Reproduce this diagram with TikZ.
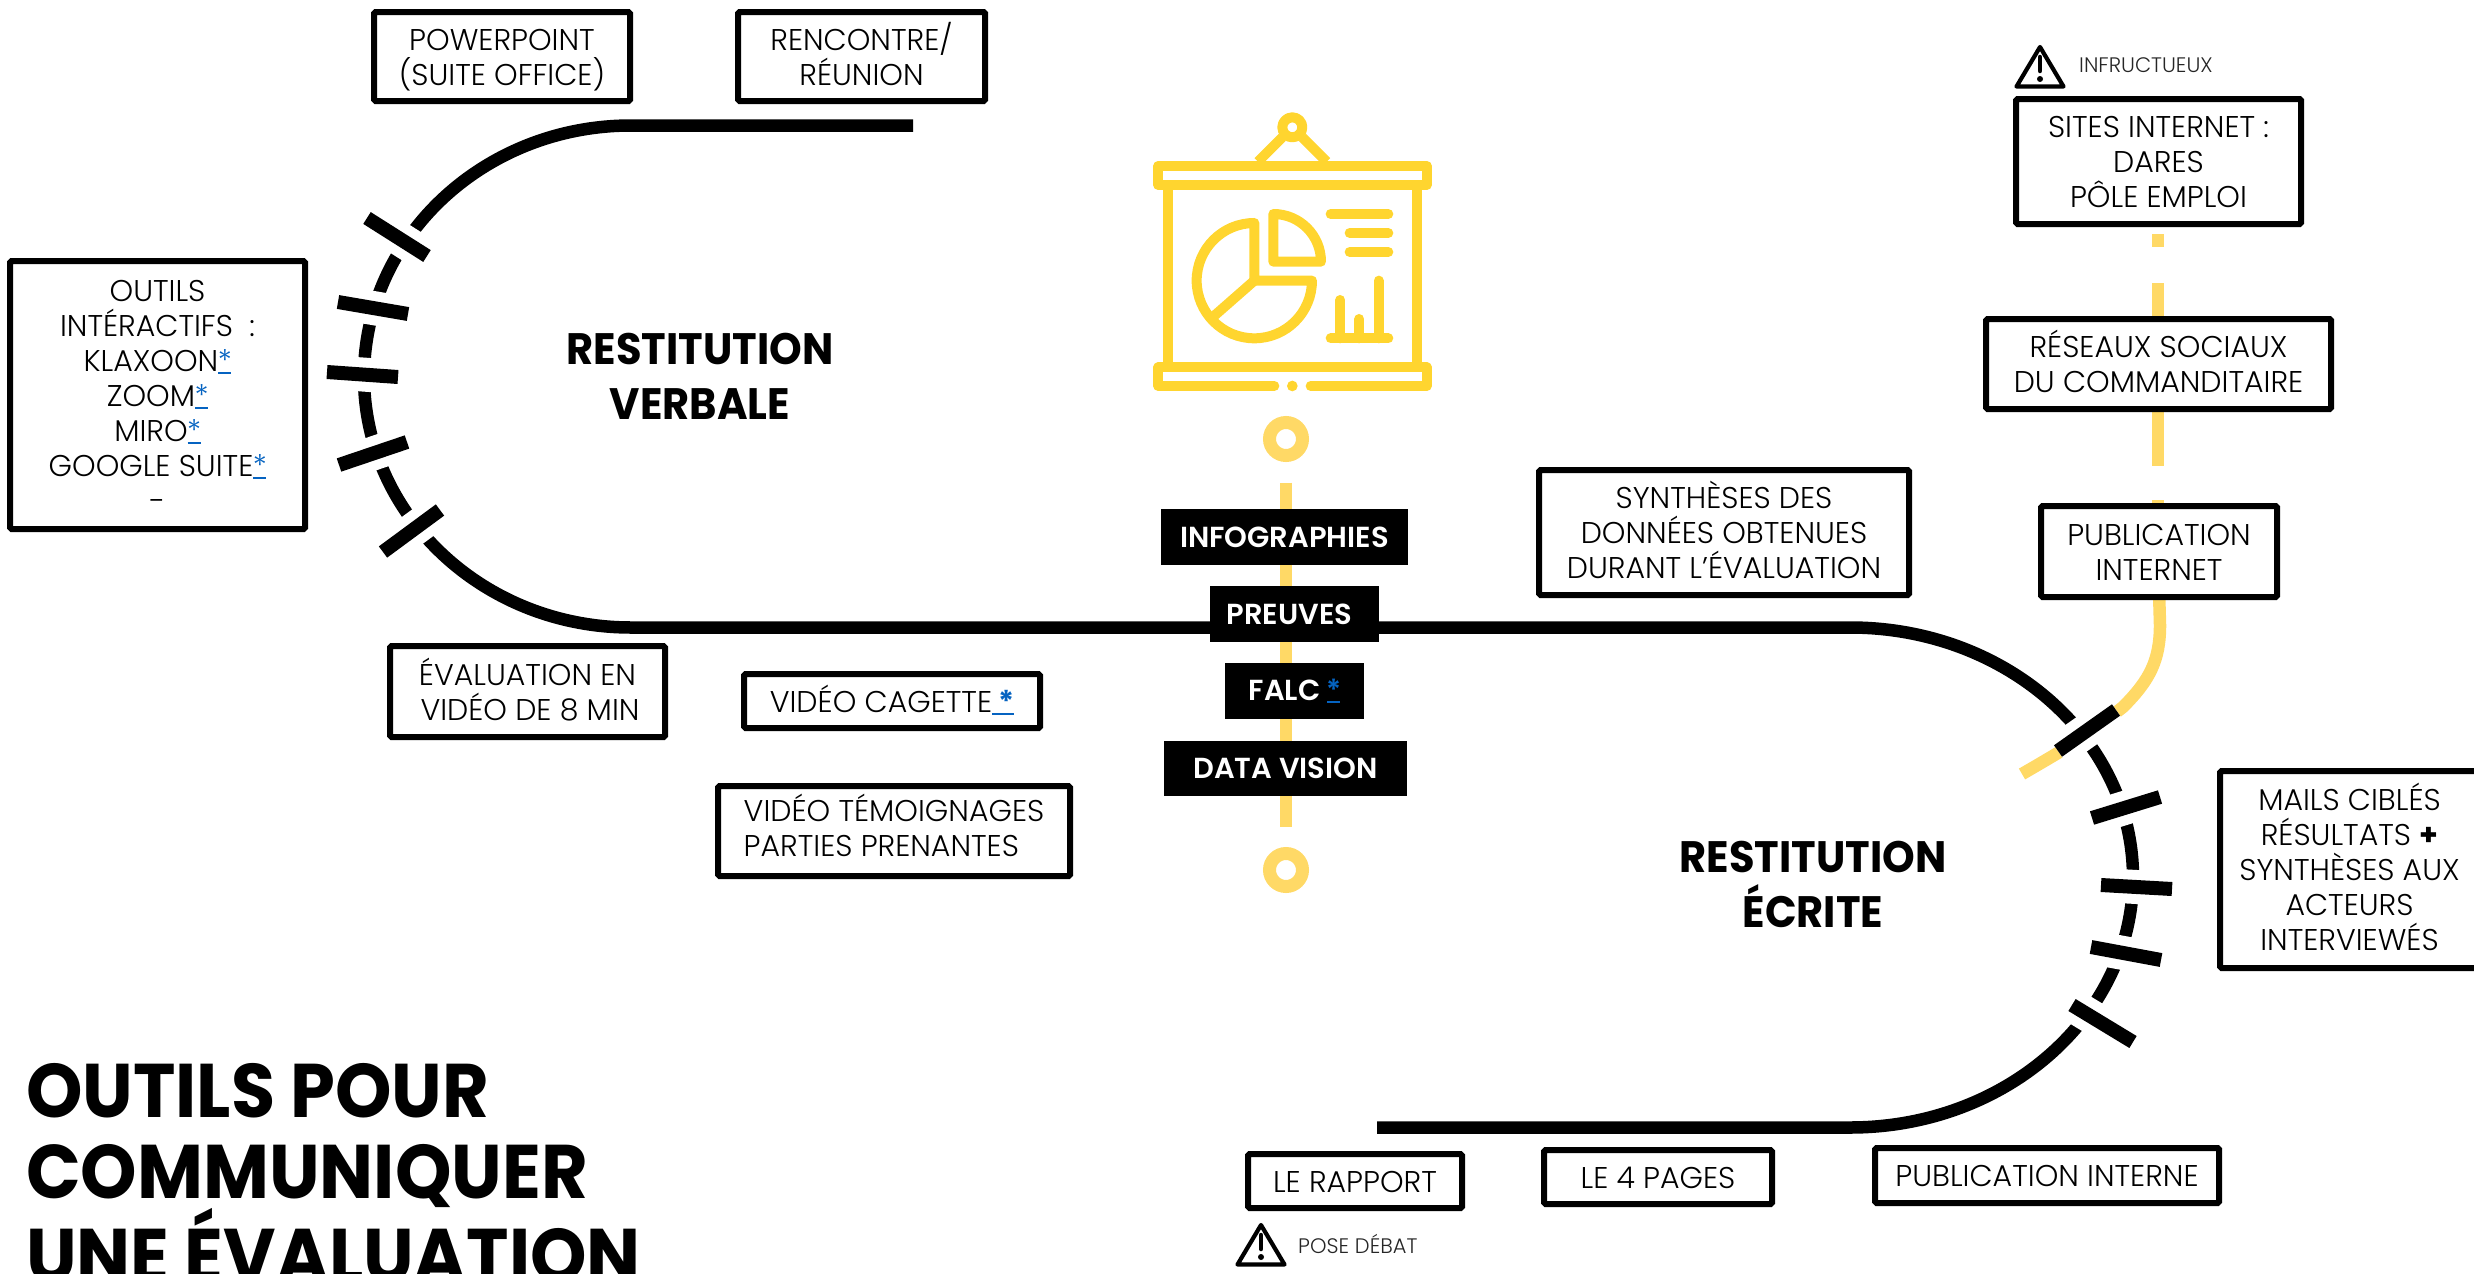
\documentclass[tikz,border=0pt]{standalone}
\usepackage{fontspec}
\setmainfont{Poppins}[UprightFont=* Light,BoldFont=* Bold]
\newfontfamily\headfont{Poppins}[UprightFont=* Bold,FakeStretch=0.945]
\newfontfamily\semifont{Poppins}[UprightFont=* SemiBold]
\definecolor{ylw}{HTML}{FFD966}
\definecolor{icony}{HTML}{FFD52F}
\definecolor{lnkblue}{HTML}{0563C1}
\newcommand{\lnk}{\textcolor{lnkblue}{\rlap{\rule[-3pt]{13pt}{2.5pt}}\makebox[13pt]{*}}}
\newcommand{\lnkb}{\textcolor{lnkblue}{\rlap{\rule[-3pt]{22pt}{2.5pt}}\makebox[22pt][r]{\textbf{*}}}}
\newcommand{\lnkf}{\textcolor{lnkblue}{\rlap{\rule[-3pt]{13pt}{2.5pt}}\makebox[13pt]{*}}}
\newcommand{\txt}{\fontsize{30}{35}\selectfont}
\newcommand{\bx}[6]{%
  \pgfmathsetmacro{\cxx}{(#2+#4)/2}\pgfmathsetmacro{\cyy}{(#3+#5)/2}%
  \pgfmathsetmacro{\ww}{#4-#2-6}\pgfmathsetmacro{\hh}{#5-#3-6}%
  \node[tbox,minimum width=\ww pt,minimum height=\hh pt] (#1) at (\cxx,\cyy) {\vphantom{É(}#6\vphantom{(}};}
\newcommand{\bk}[6]{%
  \pgfmathsetmacro{\cxx}{(#2+#4)/2}\pgfmathsetmacro{\cyy}{(#3+#5)/2}%
  \pgfmathsetmacro{\ww}{#4-#2}\pgfmathsetmacro{\hh}{#5-#3}%
  \node[kbox,minimum width=\ww pt,minimum height=\hh pt] (#1) at (\cxx,\cyy) {#6};}
\newcommand{\tick}[2]{\draw[halo] (#1) -- (#2); \draw[tickbar] (#1) -- (#2);}
\tikzset{
  tbox/.style={draw=black,line width=6pt,rounded corners=1.5pt,fill=white,align=center,inner sep=0pt,font=\txt,text=black},
  kbox/.style={fill=black,text=white,inner sep=0pt,align=center,font=\fontsize{29}{35}\selectfont\semifont},
  track/.style={line width=12.5pt,black},
  halo/.style={line width=34pt,white},
  tickbar/.style={line width=14pt,black},
  yline/.style={line width=12.5pt,ylw},
  ic/.style={line width=10pt,icony,line cap=round,line join=round},
  ring/.style={circle,draw=ylw,line width=13pt,minimum size=33pt,inner sep=0pt},
  warnline/.style={line width=4.2pt,black,line join=round,line cap=round},
  head/.style={align=center,font=\fontsize{44}{55}\selectfont\headfont,inner sep=0pt},
  small/.style={font=\fontsize{21}{26}\selectfont,inner sep=0pt,text=black!85}
}
\begin{document}
\begin{tikzpicture}[x=1pt,y=-1pt]
\useasboundingbox (0,0) rectangle (2474,1274);
\clip (0,0) rectangle (2474,1274);
% yellow branch
\draw[yline] (2158,234) -- (2158,247);
\draw[yline] (2158,283) -- (2158,330);
\draw[yline] (2158,405) -- (2158,466);
\draw[yline] (2158,500) -- (2158,520);
\draw[yline] (2159,590) -- (2160,625) .. controls (2160,660) and (2150,680) .. (2123,707) -- (2100,725) .. controls (2085,737) and (2060,752) .. (2022,774);
% black tracks
\draw[track] (913,125.5) -- (631,125.5) arc[start angle=-90,end angle=-270,x radius=267,y radius=251] -- (1850,627.5) arc[start angle=-90,end angle=90,x radius=283,y radius=250] -- (1377,1127.5);
% ticks left
\coordinate (la1) at (367,218); \coordinate (la2) at (427,256);
\coordinate (lb1) at (338,302); \coordinate (lb2) at (408,314);
\coordinate (lc1) at (327,372); \coordinate (lc2) at (398,377);
\coordinate (ld1) at (339,465); \coordinate (ld2) at (407,442);
\coordinate (le1) at (383,552); \coordinate (le2) at (440,510);
\tick{la1}{la2}\tick{lb1}{lb2}\tick{lc1}{lc2}\tick{ld1}{ld2}\tick{le1}{le2}
% ticks right
\coordinate (ra1) at (2058,751); \coordinate (ra2) at (2116,710);
\coordinate (rb1) at (2092,818); \coordinate (rb2) at (2160,797);
\coordinate (rc1) at (2101,885); \coordinate (rc2) at (2172,889);
\coordinate (rd1) at (2091,947); \coordinate (rd2) at (2161,960);
\coordinate (re1) at (2072,1005); \coordinate (re2) at (2133,1042);
\tick{ra1}{ra2}\tick{rb1}{rb2}\tick{rc1}{rc2}\tick{rd1}{rd2}\tick{re1}{re2}
% central
\node[ring] (r1) at (1286,439) {};
\node[ring] (r2) at (1286,870) {};
\draw[yline,shorten <=20.5pt,shorten >=20.5pt] (r1.south) -- (r2.north);
\bk{kinfo}{1161}{509}{1408}{565}{INFOGRAPHIES}
\bk{kpreu}{1210}{586}{1379}{642}{PREUVES\hspace{10pt}}
\bk{kfalc}{1225}{663}{1364}{719}{FALC \lnkf}
\bk{kdata}{1164}{741}{1407}{796}{DATA VISION}
% icon
\begin{scope}[shift={(1100,80)},x=0.3333pt,y=-0.3333pt]
\draw[ic] (175,258) rectangle (980,315);
\draw[ic] (523,918) -- (175,918) -- (175,862) -- (980,862) -- (980,918) -- (632,918);
\fill[icony] (577,918) circle[radius=16];
\draw[ic,line cap=butt] (204,315) -- (204,862);
\draw[ic,line cap=butt] (950,315) -- (950,862);
\draw[ic] (577,142) circle[radius=30];
\draw[ic,line cap=butt] (547,172) -- (474,245);
\draw[ic,line cap=butt] (607,172) -- (680,245);
\draw[ic] (463,429) -- (463,602) -- (636,602) arc[start angle=0,end angle=270,radius=173];
\draw[ic] (463,602) -- (333,716);
\draw[ic] (520,402) arc[start angle=-90,end angle=0,radius=143] -- (520,545) -- cycle;
\draw[ic] (692,402) -- (865,402);
\draw[ic] (749,459) -- (865,459);
\draw[ic] (749,516) -- (865,516);
\draw[ic] (692,775) -- (865,775);
\draw[ic] (721,660) -- (721,775);
\draw[ic] (778,717) -- (778,775);
\draw[ic] (836,602) -- (836,775);
\end{scope}
% text boxes
\bx{bpp}{371}{9}{633}{104}{POWERPOINT\\(SUITE OFFICE)}
\bx{bre}{735}{9}{988}{104}{RENCONTRE/\\RÉUNION}
\bx{bou}{7}{258}{308}{532}{OUTILS\\INTÉRACTIFS\ \ :\\KLAXOON\lnk\\ZOOM\lnk\\MIRO\lnk\\GOOGLE SUITE\lnk\\-}
\bx{bev}{387}{643}{668}{740}{ÉVALUATION EN\\\hspace*{5pt}VIDÉO DE 8 MIN}
\bx{bca}{741}{671}{1043}{731}{VIDÉO CAGETTE\lnkb}
\bx{bte}{715}{783}{1073}{879}{\begin{tabular}{@{}l@{}}VIDÉO TÉMOIGNAGES\\PARTIES PRENANTES\end{tabular}}
\bx{bsy}{1536}{467}{1912}{598}{SYNTHÈSES DES\\DONNÉES OBTENUES\\DURANT L’ÉVALUATION}
\bx{bpi}{2038}{503}{2280}{600}{PUBLICATION\\INTERNET}
\bx{bsi}{2013}{96}{2304}{227}{SITES INTERNET :\\DARES\\PÔLE EMPLOI}
\bx{brs}{1983}{316}{2334}{412}{RÉSEAUX SOCIAUX\\DU COMMANDITAIRE}
\bx{bma}{2217}{768}{2482}{971}{MAILS CIBLÉS\\RÉSULTATS \textbf{+}\\SYNTHÈSES AUX\\ACTEURS\\INTERVIEWÉS}
\bx{bra}{1245}{1151}{1465}{1211}{LE RAPPORT}
\bx{b4p}{1541}{1147}{1775}{1207}{LE 4 PAGES}
\bx{bin}{1872}{1145}{2222}{1206}{PUBLICATION INTERNE}
% warnings
\begin{scope}[shift={(0,0)}]
\draw[warnline] (2040,47) -- (2016.5,86.5) -- (2063.5,86.5) -- cycle;
\draw[line width=4.5pt,line cap=round] (2040,57) -- (2040,71);
\fill (2040,79) circle[radius=3];
\end{scope}
\begin{scope}[shift={(-779,1178)}]
\draw[warnline] (2040,47) -- (2016.5,86.5) -- (2063.5,86.5) -- cycle;
\draw[line width=4.5pt,line cap=round] (2040,57) -- (2040,71);
\fill (2040,79) circle[radius=3];
\end{scope}
\node[small,anchor=west] (winf) at (2079,65) {INFRUCTUEUX};
\node[small,anchor=west] (wpos) at (1298,1244) {POSE DÉBAT};
% headings
\node[head] (hv) at (700,376) {RESTITUTION\\VERBALE};
\node[head] (he) at (1813,884) {RESTITUTION\\ÉCRITE};
\node[anchor=north west,align=left,inner sep=0pt,font=\fontsize{76}{81}\selectfont\headfont] (title) at (26,1063) {OUTILS POUR\\COMMUNIQUER\\UNE ÉVALUATION};
\end{tikzpicture}
\end{document}
